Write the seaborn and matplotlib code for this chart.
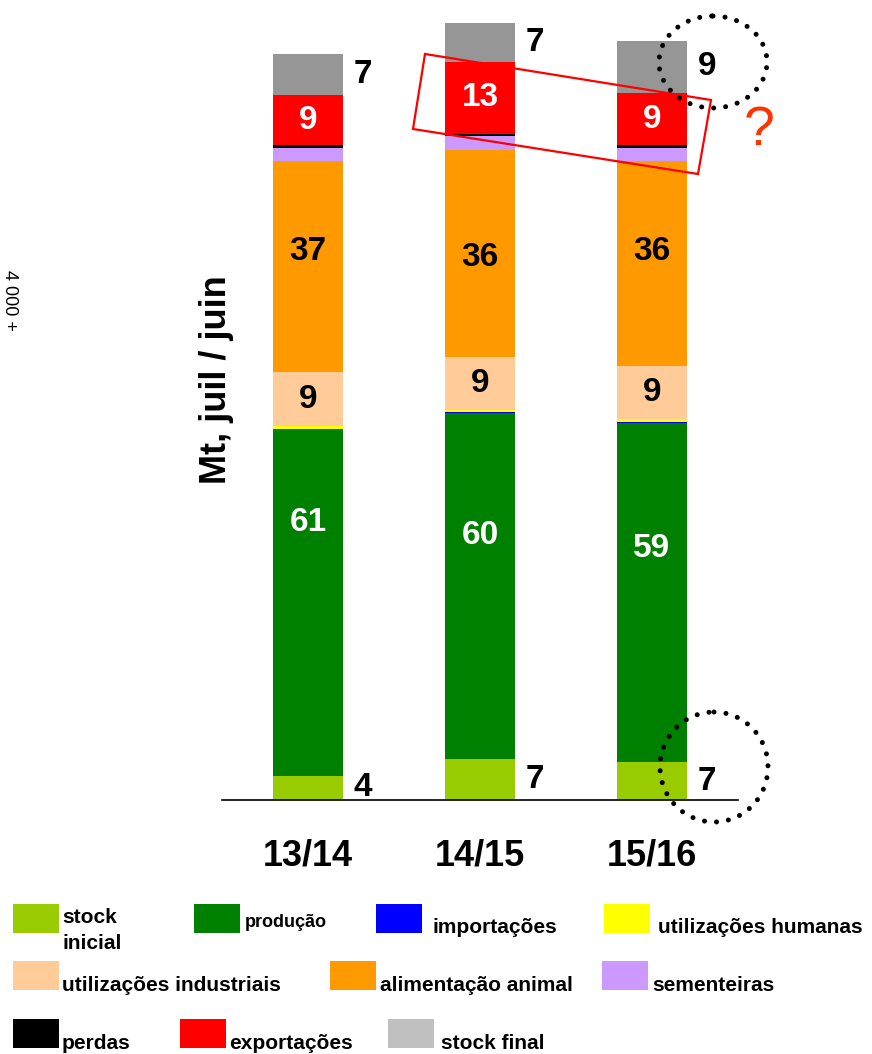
import numpy as np
import pandas as pd
import matplotlib
matplotlib.use("Agg")
import matplotlib.pyplot as plt
from matplotlib.patches import Rectangle, Polygon, Ellipse
import seaborn as sns

# ---------------- data (Mt, juil/juin) ----------------
campanhas = ["13/14", "14/15", "15/16"]
stock_inicial = [4.2, 7.2, 6.6]
producao = [60.7, 60.4, 59.3]
importacoes = [0.0, 0.3, 0.2]
util_humanas = [0.5, 0.2, 0.5]
util_industriais = [9.4, 9.4, 9.3]
alimentacao_animal = [36.9, 36.2, 35.8]
sementeiras = [2.3, 2.4, 2.3]
perdas = [0.5, 0.4, 0.5]
exportacoes = [8.7, 12.6, 9.1]
stock_final = [7.3, 6.8, 9.1]

series_names = ["stock\ninicial", "produção", "importações", "utilizações humanas",
                "utilizações industriais", "alimentação animal", "sementeiras",
                "perdas", "exportações", "stock final"]
series_values = [stock_inicial, producao, importacoes, util_humanas, util_industriais,
                 alimentacao_animal, sementeiras, perdas, exportacoes, stock_final]
bar_colors = ["#99CC00", "#008000", "#0000FF", "#FFFF00", "#FFCC99",
              "#FF9900", "#CC99FF", "#000000", "#FF0000", "#969696"]
legend_colors = bar_colors[:-1] + ["#C0C0C0"]

# ---------------- style ----------------
sns.set_style("white")
plt.rcParams['font.family'] = ['Liberation Sans', 'DejaVu Sans']
plt.rcParams['text.color'] = 'black'
plt.rcParams['xtick.color'] = 'black'
plt.rcParams['xtick.labelcolor'] = 'black'

W, H = 872, 1054
fig = plt.figure(figsize=(W / 100, H / 100), dpi=100)
ax = fig.add_axes([222 / W, 1 - 800 / H, 516 / W, 790 / H])

vals = np.array(series_values, dtype=float)
tops = np.cumsum(vals, axis=0)
bottoms = tops - vals

df = pd.DataFrame({"campanha": np.repeat([campanhas], len(series_names), axis=0).ravel(),
                   "serie": np.repeat(series_names, len(campanhas)),
                   "topo": tops.ravel()})

# stacked bars: draw cumulative totals from the top series down
for k in reversed(range(len(series_names))):
    sub = df[df["serie"] == series_names[k]]
    sns.barplot(data=sub, x="campanha", y="topo", order=campanhas, color=bar_colors[k],
                width=0.41, saturation=1, linewidth=0, errorbar=None, ax=ax)

ax.set_xlim(-0.5, 2.5)
ax.set_ylim(0, 790 / 5.72)
ax.set_yticks([])
ax.set_xlabel("")
ax.set_ylabel("")
sns.despine(ax=ax, left=True)
ax.spines["bottom"].set_color("black")
ax.spines["bottom"].set_linewidth(1.2)
ax.tick_params(axis="x", length=0, pad=28, labelsize=26, labelcolor="black")
for t in ax.get_xticklabels():
    t.set_fontweight("bold")
    t.set_color("black")

# ---------------- data labels ----------------
lab_kw = dict(fontsize=24, fontweight="bold")
prod_frac = [0.73, 0.645, 0.63]
anim_frac = [0.57, 0.48, 0.56]
for i in range(len(campanhas)):
    # outside labels (stock inicial, stock final)
    for k in (0, 9):
        ax.text(i + 0.265, bottoms[k, i] + vals[k, i] / 2, f"{round(vals[k, i])}",
                ha="left", va="center", color="black", **lab_kw)
    ax.text(i, bottoms[1, i] + prod_frac[i] * vals[1, i], f"{round(vals[1, i])}",
            ha="center", va="center", color="white", **lab_kw)
    ax.text(i, bottoms[4, i] + vals[4, i] / 2, f"{round(vals[4, i])}",
            ha="center", va="center", color="black", **lab_kw)
    ax.text(i, bottoms[5, i] + anim_frac[i] * vals[5, i], f"{round(vals[5, i])}",
            ha="center", va="center", color="black", **lab_kw)
    ax.text(i, bottoms[8, i] + vals[8, i] / 2, f"{round(vals[8, i])}",
            ha="center", va="center", color="white", **lab_kw)

fig.text(216 / W, 1 - 380 / H, "Mt, juil / juin", rotation=90, fontsize=26,
         fontweight="bold", ha="center", va="center", color="black")
fig.text(1 / W, 1 - 300 / H, "4 000 +", rotation=270, fontsize=13,
         ha="left", va="center", color="black")

# ---------------- overlay (annotations + legend) in pixel coords ----------------
ov = fig.add_axes([0, 0, 1, 1], facecolor="none")
ov.set_xlim(0, W)
ov.set_ylim(H, 0)
ov.axis("off")

ov.add_patch(Polygon([(425, 54), (711, 100), (698, 174), (413, 129)], closed=True,
                     fill=False, edgecolor="#FF0000", linewidth=1.6))
for (cx, cy, ew, eh) in [(713, 62, 108, 92), (714, 767, 108, 110)]:
    ov.add_patch(Ellipse((cx, cy), ew, eh, fill=False, edgecolor="black",
                         linewidth=3.6, linestyle=(0, (0.01, 2.4)), capstyle="round"))
ov.text(759, 131, "?", color="#FF3300", fontsize=40, ha="center", va="center")

legend_layout = [
    # patch x, patch top y, text x, text baseline y, fontsize
    (13, 904, 62, 923, 15),
    (194, 904, 245, 927, 13),
    (376, 904, 432, 933, 15),
    (604, 904, 658, 933, 15),
    (13, 961, 62, 991, 15),
    (330, 961, 380, 991, 15),
    (602, 961, 652, 991, 15),
    (13, 1019, 62, 1049, 15),
    (180, 1019, 229, 1049, 15),
    (388, 1019, 441, 1049, 15),
]
for k, (px, py, tx, ty, fs) in enumerate(legend_layout):
    ov.add_patch(Rectangle((px, py), 46, 29, facecolor=legend_colors[k], edgecolor="none"))
    lines = series_names[k].split("\n")
    for j, line in enumerate(lines):
        ov.text(tx, ty + j * 26, line, fontsize=fs, fontweight="bold",
                ha="left", va="baseline", color="black")

fig.savefig("out.png", dpi=100)
